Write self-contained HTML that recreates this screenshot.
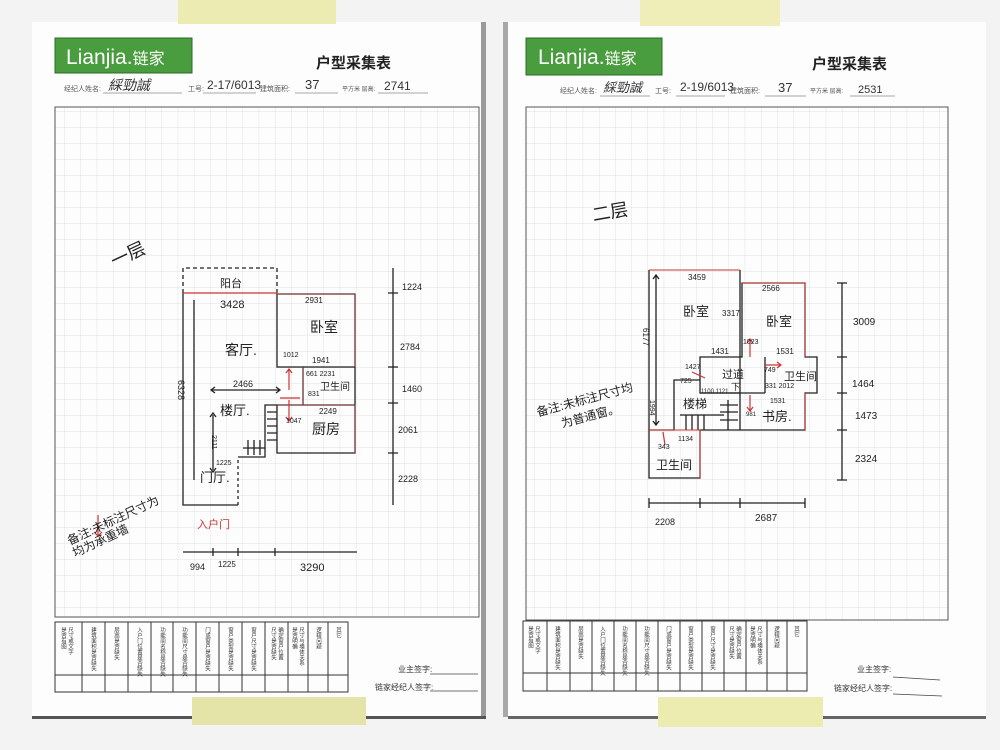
<!DOCTYPE html>
<html><head><meta charset="utf-8"><style>
html,body{margin:0;padding:0;background:#f1f1f1}
svg{display:block}
text{font-family:"Liberation Sans","Noto Sans CJK SC",sans-serif}
.h{font-family:"Liberation Sans","Noto Sans CJK SC",sans-serif;fill:#555}
</style></head><body>
<svg width="1000" height="750" viewBox="0 0 1000 750" xmlns="http://www.w3.org/2000/svg">
<defs>
<pattern id="g" width="16.2" height="16" patternUnits="userSpaceOnUse">
<path d="M16.2 0V16M0 16H16.2" stroke="#d6d9dc" stroke-width="0.7" fill="none"/>
</pattern>
</defs>
<rect width="1000" height="750" fill="#f3f3f3"/>
<rect x="32" y="22" width="452" height="695" fill="#fdfdfd"/>
<rect x="481" y="22" width="5" height="695" fill="#9a9a9a"/>
<rect x="503" y="22" width="6" height="695" fill="#a8a8a8"/>
<rect x="508" y="22" width="478" height="696" fill="#fdfdfd"/>
<rect x="32" y="716" width="454" height="3" fill="#555"/>
<rect x="508" y="716" width="478" height="3" fill="#666"/>
<rect x="178" y="0" width="158" height="24" fill="#ecebb2"/>
<rect x="640" y="0" width="140" height="26" fill="#efeeb8"/>
<rect x="192" y="697" width="174" height="28" fill="#e4e3a8"/>
<rect x="658" y="697" width="165" height="30" fill="#ecebb0"/>

<!-- LEFT SHEET -->
<rect x="55" y="38" width="137" height="35" fill="#4a9d3e" stroke="#2d6a28"/>
<text x="66" y="64" font-size="21" fill="#fff">Lianjia.<tspan font-size="16">链家</tspan></text>
<text x="316" y="68" font-size="15" font-weight="bold" fill="#222">户型采集表</text>
<text x="64" y="91" class="h" font-size="7">经纪人姓名:</text>
<text x="108" y="90" font-size="14" fill="#333" font-style="italic">綵勁誠</text>
<line x1="103" y1="93" x2="182" y2="93" stroke="#555" stroke-width=".6"/>
<text x="188" y="91" class="h" font-size="7">工号:</text>
<text x="207" y="89" font-size="12" fill="#333">2-17/6013</text>
<line x1="203" y1="93" x2="256" y2="93" stroke="#555" stroke-width=".6"/>
<text x="260" y="91" class="h" font-size="7">建筑面积:</text>
<text x="305" y="89" font-size="13" fill="#333">37</text>
<line x1="295" y1="93" x2="338" y2="93" stroke="#555" stroke-width=".6"/>
<text x="342" y="91" class="h" font-size="6">平方米 层高:</text>
<text x="384" y="90" font-size="12" fill="#333">2741</text>
<line x1="378" y1="93" x2="428" y2="93" stroke="#555" stroke-width=".6"/>
<rect x="55" y="107" width="424" height="510" fill="url(#g)" stroke="#555" stroke-width="1"/>

<g fill="none" stroke="#222" stroke-width="1.3">
<path d="M183 293V268H277V293" stroke-dasharray="4 3"/>
<path d="M183 293V505H238"/>
<path d="M238 505V457" stroke-dasharray="3 3"/>
<path d="M238 457H265V405H277V453H355V294H277V367H303V405H355"/>
<path d="M303 367H355M277 405H303"/>
<path d="M267 412H277M267 419H277M267 426H277M267 433H277M267 440H277M243 448H265M248 440V455M254 440V455M260 440V455"/>
<path d="M393 268V505M388 293H398M388 367H398M388 403H398M388 453H398"/>
<path d="M183 552H357M213 548V556M238 548V556M275 548V556"/>
<path d="M194 300V480M213 415V470M210 417l3-4 3 4M210 468l3 4 3-4"/>
<path d="M211 390H280M215 387l-4 3 4 3M276 387l4 3-4 3"/>
</g>
<line x1="183" y1="293" x2="277" y2="293" stroke="#c33" stroke-width="1.3"/>
<path d="M277 294H355V367M303 367V405M277 405H355V453" fill="none" stroke="#c44" stroke-width="0.8" opacity=".7"/>
<path d="M289 370V390M286 373l3-4 3 4M280 398H300M289 400V420M286 417l3 4 3-4M98 515V535M94 532l4 4 4-4" stroke="#c33" stroke-width="1.2" fill="none"/>
<text x="220" y="287" font-size="11" fill="#222">阳台</text>
<text x="220" y="308" font-size="11" fill="#222">3428</text>
<text x="305" y="303" font-size="8" fill="#222">2931</text>
<text x="310" y="332" font-size="14" fill="#222">卧室</text>
<text x="225" y="355" font-size="14" fill="#222">客厅.</text>
<text x="283" y="357" font-size="7" fill="#222">1012</text>
<text x="312" y="363" font-size="8" fill="#222">1941</text>
<text x="306" y="376" font-size="7" fill="#222">661 2231</text>
<text x="320" y="390" font-size="10" fill="#222">卫生间</text>
<text x="308" y="396" font-size="7" fill="#222">831</text>
<text x="233" y="387" font-size="9" fill="#222">2466</text>
<text x="319" y="414" font-size="8" fill="#222">2249</text>
<text x="312" y="434" font-size="14" fill="#222">厨房</text>
<text x="286" y="423" font-size="7" fill="#222">1047</text>
<text x="220" y="415" font-size="13" fill="#222">楼厅.</text>
<text x="212" y="435" font-size="7" fill="#222" transform="rotate(90 212 435)">2111</text>
<text x="188" y="390" font-size="9" fill="#222" transform="rotate(90 188 380)">6328</text>
<text x="216" y="465" font-size="7" fill="#222">1225</text>
<text x="200" y="482" font-size="13" fill="#222">门厅.</text>
<text x="197" y="528" font-size="11" fill="#c33">入户门</text>
<text x="402" y="290" font-size="9" fill="#222">1224</text>
<text x="400" y="350" font-size="9" fill="#222">2784</text>
<text x="402" y="392" font-size="9" fill="#222">1460</text>
<text x="398" y="433" font-size="9" fill="#222">2061</text>
<text x="398" y="482" font-size="9" fill="#222">2228</text>
<text x="190" y="570" font-size="9" fill="#222">994</text>
<text x="218" y="567" font-size="8" fill="#222">1225</text>
<text x="300" y="571" font-size="11" fill="#222">3290</text>
<text x="110" y="262" font-size="18" fill="#222" transform="rotate(-25 125 255)">一层</text>
<text x="62" y="530" font-size="12" fill="#222" transform="rotate(-25 100 520)">备注:未标注尺寸为</text>
<text x="70" y="545" font-size="12" fill="#222" transform="rotate(-25 100 540)">均为承重墙</text>

<g stroke="#333" stroke-width="1" fill="none">
<rect x="55" y="622" width="293" height="70"/>
<line x1="55" y1="675" x2="348" y2="675"/>
<path d="M82 622V692M105 622V692M128 622V692M151 622V692M173 622V692M196 622V692M219 622V692M242 622V692M265 622V692M288 622V692M308 622V692M328 622V692"/>
</g>
<g font-size="5.5" fill="#333" style="writing-mode:vertical-rl">
<text x="63" y="627">是否有图</text><text x="70" y="627">尺寸或文字</text>
<text x="93" y="627">建筑面积是否缺失</text>
<text x="116" y="627">层高是否缺失</text>
<text x="139" y="627">入户门位置是否缺失</text>
<text x="162" y="627">功能间名称是否缺失</text>
<text x="184" y="627">功能间尺寸是否缺失</text>
<text x="207" y="627">门或窗户是否缺失</text>
<text x="230" y="627">窗户类型是否缺失</text>
<text x="253" y="627">窗户尺寸是否缺失</text>
<text x="273" y="627">尺寸是否缺失</text><text x="280" y="627">确定窗户位置</text>
<text x="294" y="627">是否明确</text><text x="301" y="627">尺寸与墙体关系</text>
<text x="318" y="627">逻辑问题</text>
<text x="338" y="627">其它</text>
</g>
<text x="398" y="672" font-size="8" fill="#333">业主签字:</text>
<line x1="430" y1="674" x2="478" y2="674" stroke="#444" stroke-width=".7"/>
<text x="375" y="690" font-size="8" fill="#333">链家经纪人签字:</text>
<line x1="430" y1="691" x2="478" y2="691" stroke="#444" stroke-width=".7"/>

<!-- RIGHT SHEET -->
<rect x="526" y="38" width="136" height="37" fill="#4a9d3e" stroke="#2d6a28"/>
<text x="538" y="64" font-size="21" fill="#fff">Lianjia.<tspan font-size="16">链家</tspan></text>
<text x="812" y="69" font-size="15" font-weight="bold" fill="#222">户型采集表</text>
<text x="560" y="93" class="h" font-size="7">经纪人姓名:</text>
<text x="603" y="92" font-size="13" fill="#333" font-style="italic">綵勁誠</text>
<line x1="600" y1="96" x2="650" y2="96" stroke="#555" stroke-width=".6"/>
<text x="655" y="93" class="h" font-size="7">工号:</text>
<text x="680" y="91" font-size="12" fill="#333">2-19/6013</text>
<line x1="676" y1="96" x2="725" y2="96" stroke="#555" stroke-width=".6"/>
<text x="730" y="93" class="h" font-size="7">建筑面积:</text>
<text x="778" y="92" font-size="13" fill="#333">37</text>
<line x1="765" y1="96" x2="806" y2="96" stroke="#555" stroke-width=".6"/>
<text x="810" y="93" class="h" font-size="6">平方米 层高:</text>
<text x="858" y="93" font-size="11" fill="#333">2531</text>
<line x1="850" y1="96" x2="895" y2="96" stroke="#555" stroke-width=".6"/>
<rect x="526" y="107" width="422" height="513" fill="url(#g)" stroke="#555" stroke-width="1"/>

<g fill="none" stroke="#222" stroke-width="1.3">
<path d="M649 270V478H700V430H805V393H817V357H805V283H742V357H700V393H740V270"/>
<path d="M649 430H674V380H700M765 357V393M700 393H765M740 393V430"/>
<path d="M728 400V430M720 405H738M720 412H738M720 420H738M680 415H724M686 415V430M692 415V430M698 415V430M704 415V430"/>
<path d="M842 283V480M837 357H847M837 393H847M837 430H847M837 283H847M837 480H847"/>
<path d="M649 503H805M649 498V508M700 498V508M740 498V508M805 498V508"/>
<path d="M656 275V425M653 279l3-4 3 4M653 421l3 4 3-4"/>
</g>
<path d="M649 270H740M742 283H805V357M649 430H700V478M805 393V430" fill="none" stroke="#c33" stroke-width="1"/>
<path d="M750 357V340M747 343l3-4 3 4M765 365H780M777 362l4 3-4 3M750 395V410M747 407l3 4 3-4M692 372L705 378M663 432L665 445" stroke="#c33" stroke-width="1.2" fill="none"/>
<text x="688" y="280" font-size="8" fill="#222">3459</text>
<text x="683" y="316" font-size="13" fill="#222">卧室</text>
<text x="722" y="316" font-size="8" fill="#222">3317</text>
<text x="762" y="291" font-size="8" fill="#222">2566</text>
<text x="766" y="326" font-size="13" fill="#222">卧室</text>
<text x="711" y="354" font-size="8" fill="#222">1431</text>
<text x="743" y="344" font-size="7" fill="#222">1023</text>
<text x="776" y="354" font-size="8" fill="#222">1531</text>
<text x="685" y="369" font-size="7" fill="#222">1427</text>
<text x="722" y="378" font-size="11" fill="#222">过道</text>
<text x="731" y="390" font-size="9" fill="#222">下</text>
<text x="764" y="372" font-size="7" fill="#222">749</text>
<text x="784" y="380" font-size="11" fill="#222">卫生间</text>
<text x="765" y="388" font-size="7" fill="#222">331 2012</text>
<text x="680" y="383" font-size="7" fill="#222">725</text>
<text x="701" y="393" font-size="6" fill="#222">1100 1121</text>
<text x="770" y="403" font-size="7" fill="#222">1531</text>
<text x="746" y="416" font-size="6" fill="#222">981</text>
<text x="762" y="421" font-size="13" fill="#222">书房.</text>
<text x="683" y="408" font-size="12" fill="#222">楼梯</text>
<text x="660" y="410" font-size="7" fill="#222" transform="rotate(90 660 400)">1994</text>
<text x="651" y="340" font-size="8" fill="#222" transform="rotate(90 653 330)">6177</text>
<text x="678" y="441" font-size="7" fill="#222">1134</text>
<text x="658" y="449" font-size="7" fill="#222">343</text>
<text x="656" y="469" font-size="12" fill="#222">卫生间</text>
<text x="853" y="325" font-size="10" fill="#222">3009</text>
<text x="852" y="387" font-size="10" fill="#222">1464</text>
<text x="855" y="419" font-size="10" fill="#222">1473</text>
<text x="855" y="462" font-size="10" fill="#222">2324</text>
<text x="655" y="525" font-size="9" fill="#222">2208</text>
<text x="755" y="521" font-size="10" fill="#222">2687</text>
<text x="592" y="220" font-size="18" fill="#222" transform="rotate(-10 600 212)">二层</text>
<text x="535" y="405" font-size="12" fill="#222" transform="rotate(-15 580 400)">备注:未标注尺寸均</text>
<text x="560" y="420" font-size="12" fill="#222" transform="rotate(-15 590 415)">为普通窗。</text>

<g stroke="#333" stroke-width="1" fill="none">
<rect x="523" y="621" width="284" height="70"/>
<line x1="523" y1="673" x2="807" y2="673"/>
<path d="M547 621V691M570 621V691M592 621V691M614 621V691M636 621V691M658 621V691M680 621V691M702 621V691M724 621V691M746 621V691M767 621V691M787 621V691"/>
</g>
<g font-size="5.5" fill="#333" style="writing-mode:vertical-rl">
<text x="530" y="626">是否有图</text><text x="537" y="626">尺寸或文字</text>
<text x="557" y="626">建筑面积是否缺失</text>
<text x="580" y="626">层高是否缺失</text>
<text x="602" y="626">入户门位置是否缺失</text>
<text x="624" y="626">功能间名称是否缺失</text>
<text x="646" y="626">功能间尺寸是否缺失</text>
<text x="668" y="626">门或窗户是否缺失</text>
<text x="690" y="626">窗户类型是否缺失</text>
<text x="712" y="626">窗户尺寸是否缺失</text>
<text x="731" y="626">尺寸是否缺失</text><text x="738" y="626">确定窗户位置</text>
<text x="752" y="626">是否明确</text><text x="759" y="626">尺寸与墙体关系</text>
<text x="776" y="626">逻辑问题</text>
<text x="796" y="626">其它</text>
</g>
<text x="857" y="672" font-size="8" fill="#333">业主签字:</text>
<line x1="893" y1="677" x2="940" y2="680" stroke="#444" stroke-width=".7"/>
<text x="834" y="691" font-size="8" fill="#333">链家经纪人签字:</text>
<line x1="893" y1="694" x2="942" y2="696" stroke="#444" stroke-width=".7"/>
</svg>
</body></html>
